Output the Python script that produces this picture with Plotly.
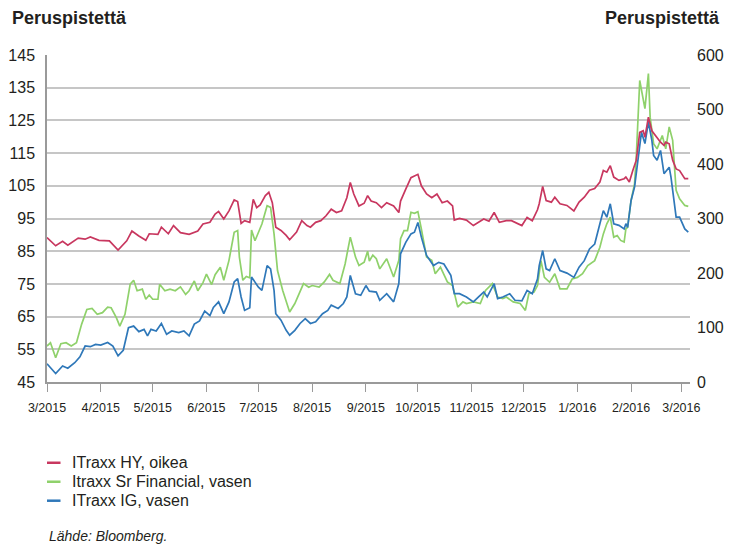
import plotly.graph_objects as go

# iTraxx HY (right axis, basis points)
HY_POINTS = [
    ("2015-03-01", 265), ("2015-03-06", 250), ("2015-03-10", 258), ("2015-03-13", 251),
    ("2015-03-19", 264), ("2015-03-23", 262), ("2015-03-26", 266), ("2015-03-31", 260),
    ("2015-04-06", 259), ("2015-04-11", 242), ("2015-04-16", 259), ("2015-04-19", 277),
    ("2015-04-23", 268), ("2015-04-27", 260), ("2015-04-29", 272),
    ("2015-05-04", 271), ("2015-05-06", 284), ("2015-05-10", 272), ("2015-05-13", 287),
    ("2015-05-17", 274), ("2015-05-22", 271), ("2015-05-27", 277), ("2015-05-30", 290),
    ("2015-06-03", 293), ("2015-06-06", 308), ("2015-06-08", 313), ("2015-06-11", 299),
    ("2015-06-14", 314), ("2015-06-17", 334), ("2015-06-19", 331), ("2015-06-21", 291),
    ("2015-06-23", 296), ("2015-06-26", 293), ("2015-06-28", 335), ("2015-06-30", 320),
    ("2015-07-02", 325), ("2015-07-05", 342), ("2015-07-07", 348), ("2015-07-09", 329),
    ("2015-07-11", 284), ("2015-07-14", 278), ("2015-07-17", 269), ("2015-07-19", 261),
    ("2015-07-23", 275), ("2015-07-26", 296), ("2015-07-29", 287), ("2015-07-31", 284),
    ("2015-08-03", 293), ("2015-08-06", 296), ("2015-08-09", 305), ("2015-08-12", 317),
    ("2015-08-15", 311), ("2015-08-18", 314), ("2015-08-21", 338), ("2015-08-23", 366),
    ("2015-08-25", 345), ("2015-08-28", 323), ("2015-08-31", 328),
    ("2015-09-02", 342), ("2015-09-04", 332), ("2015-09-07", 329), ("2015-09-10", 320),
    ("2015-09-13", 329), ("2015-09-17", 323), ("2015-09-20", 311), ("2015-09-21", 332),
    ("2015-09-24", 354), ("2015-09-27", 375), ("2015-09-29", 378),
    ("2015-10-01", 381), ("2015-10-03", 360), ("2015-10-06", 345), ("2015-10-09", 338),
    ("2015-10-12", 345), ("2015-10-15", 329), ("2015-10-18", 332), ("2015-10-21", 323),
    ("2015-10-22", 297), ("2015-10-25", 300), ("2015-10-29", 297),
    ("2015-11-02", 287), ("2015-11-05", 293), ("2015-11-08", 299), ("2015-11-11", 295),
    ("2015-11-14", 311), ("2015-11-17", 293), ("2015-11-21", 296), ("2015-11-24", 296),
    ("2015-11-28", 290), ("2015-11-30", 287),
    ("2015-12-03", 302), ("2015-12-06", 296), ("2015-12-09", 316), ("2015-12-10", 327),
    ("2015-12-12", 359), ("2015-12-14", 333), ("2015-12-17", 330), ("2015-12-19", 339),
    ("2015-12-22", 327), ("2015-12-26", 324), ("2015-12-30", 314),
    ("2016-01-02", 330), ("2016-01-05", 339), ("2016-01-08", 352), ("2016-01-11", 355),
    ("2016-01-14", 367), ("2016-01-16", 388), ("2016-01-18", 385), ("2016-01-20", 397),
    ("2016-01-22", 376), ("2016-01-25", 370), ("2016-01-28", 373), ("2016-01-29", 376),
    ("2016-01-31", 367),
    ("2016-02-02", 388), ("2016-02-04", 407), ("2016-02-06", 458), ("2016-02-08", 461),
    ("2016-02-09", 449), ("2016-02-11", 486), ("2016-02-13", 461), ("2016-02-15", 452),
    ("2016-02-18", 440), ("2016-02-20", 434), ("2016-02-21", 440), ("2016-02-23", 437),
    ("2016-02-25", 407), ("2016-02-27", 391), ("2016-02-29", 388),
    ("2016-03-03", 373), ("2016-03-05", 373),
]

# iTraxx Senior Financial (left axis)
FIN_POINTS = [
    ("2015-03-01", 56.0), ("2015-03-03", 57.0), ("2015-03-06", 52.4), ("2015-03-09", 56.7),
    ("2015-03-12", 57.0), ("2015-03-15", 56.0), ("2015-03-18", 57.0), ("2015-03-21", 62.7),
    ("2015-03-24", 67.2), ("2015-03-27", 67.5), ("2015-03-30", 65.7),
    ("2015-04-02", 66.2), ("2015-04-05", 67.9), ("2015-04-07", 67.7), ("2015-04-10", 64.7),
    ("2015-04-12", 62.1), ("2015-04-15", 65.7), ("2015-04-18", 74.9), ("2015-04-20", 76.1),
    ("2015-04-22", 72.9), ("2015-04-25", 73.4), ("2015-04-27", 70.3), ("2015-04-29", 71.6),
    ("2015-05-01", 70.3), ("2015-05-04", 70.3), ("2015-05-05", 74.9), ("2015-05-08", 72.9),
    ("2015-05-11", 73.4), ("2015-05-14", 72.9), ("2015-05-17", 74.1), ("2015-05-20", 71.8),
    ("2015-05-22", 72.9), ("2015-05-25", 75.9), ("2015-05-27", 72.9), ("2015-05-30", 75.4),
    ("2015-06-01", 78.0), ("2015-06-04", 74.8), ("2015-06-06", 77.8), ("2015-06-09", 80.1),
    ("2015-06-11", 76.1), ("2015-06-14", 82.2), ("2015-06-17", 90.8), ("2015-06-19", 91.3),
    ("2015-06-20", 83.2), ("2015-06-22", 76.1), ("2015-06-24", 77.3), ("2015-06-26", 76.9),
    ("2015-06-27", 91.5), ("2015-06-29", 88.2),
    ("2015-07-03", 93.3), ("2015-07-06", 98.9), ("2015-07-08", 98.4), ("2015-07-10", 90.3),
    ("2015-07-12", 79.1), ("2015-07-15", 73.0), ("2015-07-19", 66.4), ("2015-07-22", 69.0),
    ("2015-07-25", 73.0), ("2015-07-27", 75.1), ("2015-07-30", 74.0),
    ("2015-08-01", 74.5), ("2015-08-05", 74.0), ("2015-08-08", 75.6), ("2015-08-11", 77.9),
    ("2015-08-13", 76.1), ("2015-08-17", 75.1), ("2015-08-20", 81.1), ("2015-08-23", 89.3),
    ("2015-08-26", 83.2), ("2015-08-28", 80.6), ("2015-08-31", 81.6),
    ("2015-09-02", 85.0), ("2015-09-03", 82.0), ("2015-09-05", 83.8), ("2015-09-07", 82.7),
    ("2015-09-09", 79.6), ("2015-09-13", 82.7), ("2015-09-17", 77.1), ("2015-09-20", 82.2),
    ("2015-09-21", 88.8), ("2015-09-23", 91.3), ("2015-09-25", 91.3), ("2015-09-27", 96.9),
    ("2015-09-29", 96.6),
    ("2015-10-01", 97.1), ("2015-10-03", 91.8), ("2015-10-06", 83.2), ("2015-10-09", 82.2),
    ("2015-10-11", 78.1), ("2015-10-14", 80.1), ("2015-10-18", 75.6), ("2015-10-21", 74.5),
    ("2015-10-24", 67.9), ("2015-10-27", 69.5), ("2015-10-29", 69.0),
    ("2015-11-02", 69.5), ("2015-11-06", 69.0), ("2015-11-09", 73.0), ("2015-11-13", 75.1),
    ("2015-11-16", 71.0), ("2015-11-19", 70.5), ("2015-11-21", 71.0), ("2015-11-25", 69.5),
    ("2015-11-29", 69.0),
    ("2015-12-02", 66.9), ("2015-12-04", 72.0), ("2015-12-07", 72.5), ("2015-12-09", 74.5),
    ("2015-12-11", 82.1), ("2015-12-13", 77.0), ("2015-12-16", 75.5), ("2015-12-19", 78.1),
    ("2015-12-22", 73.5), ("2015-12-26", 73.5), ("2015-12-29", 76.5),
    ("2016-01-01", 77.0), ("2016-01-04", 78.1), ("2016-01-07", 80.6), ("2016-01-11", 82.1),
    ("2016-01-14", 86.2), ("2016-01-16", 90.3), ("2016-01-18", 93.4), ("2016-01-20", 95.4),
    ("2016-01-22", 89.3), ("2016-01-24", 89.8), ("2016-01-26", 88.3), ("2016-01-28", 87.8),
    ("2016-01-29", 91.8), ("2016-01-30", 92.3),
    ("2016-02-01", 100.5), ("2016-02-03", 105.6), ("2016-02-04", 113.8), ("2016-02-06", 137.2),
    ("2016-02-09", 128.6), ("2016-02-11", 139.3), ("2016-02-12", 126.0), ("2016-02-14", 117.9),
    ("2016-02-16", 116.3), ("2016-02-19", 120.4), ("2016-02-21", 116.3), ("2016-02-23", 123.0),
    ("2016-02-25", 118.9), ("2016-02-27", 103.6), ("2016-02-29", 101.0),
    ("2016-03-03", 99.0), ("2016-03-05", 98.7),
]

# iTraxx IG (left axis)
IG_POINTS = [
    ("2015-03-01", 50.6), ("2015-03-06", 47.6), ("2015-03-10", 49.9), ("2015-03-13", 49.2),
    ("2015-03-17", 50.9), ("2015-03-20", 52.7), ("2015-03-23", 56.0), ("2015-03-26", 55.8),
    ("2015-03-29", 56.5),
    ("2015-04-01", 56.3), ("2015-04-05", 57.1), ("2015-04-08", 56.0), ("2015-04-11", 53.0),
    ("2015-04-14", 54.7), ("2015-04-17", 61.6), ("2015-04-20", 62.1), ("2015-04-23", 60.4),
    ("2015-04-26", 61.1), ("2015-04-28", 59.1), ("2015-04-30", 61.1),
    ("2015-05-03", 60.6), ("2015-05-06", 62.9), ("2015-05-09", 59.6), ("2015-05-12", 60.6),
    ("2015-05-16", 60.1), ("2015-05-19", 60.6), ("2015-05-22", 59.1), ("2015-05-25", 62.7),
    ("2015-05-28", 63.7), ("2015-05-31", 66.7),
    ("2015-06-03", 65.3), ("2015-06-05", 67.8), ("2015-06-08", 69.5), ("2015-06-11", 65.9),
    ("2015-06-14", 69.5), ("2015-06-17", 75.6), ("2015-06-19", 76.6), ("2015-06-21", 71.0),
    ("2015-06-23", 66.9), ("2015-06-26", 67.7), ("2015-06-27", 77.1),
    ("2015-07-01", 74.0), ("2015-07-03", 73.0), ("2015-07-06", 80.6), ("2015-07-08", 79.6),
    ("2015-07-10", 73.0), ("2015-07-11", 65.9), ("2015-07-14", 63.9), ("2015-07-17", 60.8),
    ("2015-07-19", 59.3), ("2015-07-22", 60.8), ("2015-07-25", 62.9), ("2015-07-28", 64.4),
    ("2015-07-31", 62.9),
    ("2015-08-03", 63.4), ("2015-08-07", 65.9), ("2015-08-10", 66.9), ("2015-08-12", 68.5),
    ("2015-08-16", 67.5), ("2015-08-19", 69.0), ("2015-08-21", 71.0), ("2015-08-23", 77.6),
    ("2015-08-26", 72.0), ("2015-08-29", 71.5),
    ("2015-09-01", 74.5), ("2015-09-03", 72.8), ("2015-09-07", 72.5), ("2015-09-09", 70.0),
    ("2015-09-13", 72.0), ("2015-09-17", 69.5), ("2015-09-20", 75.1), ("2015-09-21", 84.2),
    ("2015-09-24", 87.7), ("2015-09-27", 90.3), ("2015-09-29", 90.8),
    ("2015-10-01", 93.8), ("2015-10-03", 89.3), ("2015-10-06", 83.7), ("2015-10-10", 80.6),
    ("2015-10-13", 81.6), ("2015-10-16", 81.1), ("2015-10-20", 77.6), ("2015-10-22", 72.0),
    ("2015-10-25", 72.0), ("2015-10-29", 71.0),
    ("2015-11-02", 69.5), ("2015-11-05", 71.0), ("2015-11-08", 72.5), ("2015-11-10", 71.0),
    ("2015-11-14", 75.1), ("2015-11-16", 70.5), ("2015-11-19", 71.0), ("2015-11-23", 72.0),
    ("2015-11-26", 70.0), ("2015-11-30", 69.8),
    ("2015-12-03", 73.0), ("2015-12-06", 72.0), ("2015-12-09", 76.5), ("2015-12-10", 80.6),
    ("2015-12-12", 85.2), ("2015-12-14", 79.6), ("2015-12-16", 79.1), ("2015-12-19", 82.7),
    ("2015-12-22", 79.1), ("2015-12-26", 78.3), ("2015-12-30", 77.0),
    ("2016-01-02", 80.1), ("2016-01-05", 82.1), ("2016-01-08", 85.7), ("2016-01-11", 87.2),
    ("2016-01-14", 93.4), ("2016-01-16", 97.4), ("2016-01-18", 95.4), ("2016-01-20", 99.5),
    ("2016-01-22", 93.4), ("2016-01-25", 92.9), ("2016-01-28", 91.8), ("2016-01-29", 93.4),
    ("2016-01-30", 92.3),
    ("2016-02-01", 100.5), ("2016-02-03", 104.6), ("2016-02-05", 113.8), ("2016-02-07", 121.4),
    ("2016-02-09", 117.9), ("2016-02-11", 124.5), ("2016-02-13", 118.9), ("2016-02-14", 114.3),
    ("2016-02-16", 112.8), ("2016-02-18", 115.8), ("2016-02-20", 108.7), ("2016-02-23", 110.7),
    ("2016-02-24", 107.7), ("2016-02-27", 95.4), ("2016-02-29", 95.4),
    ("2016-03-03", 91.8), ("2016-03-05", 90.8),
]

LEGEND_LABELS = ["ITraxx HY, oikea", "Itraxx Sr Financial, vasen", "ITraxx IG, vasen"]
AXIS_TITLE = "Peruspistettä"
SOURCE = "Lähde: Bloomberg."

RED = "#c8375f"
GREEN = "#8fd16b"
BLUE = "#2f78b9"
GRID = "#c6c6c6"
TEXT = "#231f20"
FONT = "Liberation Sans, Arial, sans-serif"

fig = go.Figure()

for points, color, axis in [
    (FIN_POINTS, GREEN, "y"),
    (IG_POINTS, BLUE, "y"),
    (HY_POINTS, RED, "y2"),
]:
    fig.add_trace(
        go.Scatter(
            x=[d for d, _ in points],
            y=[v for _, v in points],
            mode="lines",
            line=dict(color=color, width=1.7),
            yaxis=axis,
            showlegend=False,
        )
    )

# the page body adds an 8px offset, so the figure is 8px smaller on each axis
fig.update_layout(
    width=724,
    height=542,
    margin=dict(l=39, r=42, t=47, b=168),
    paper_bgcolor="white",
    plot_bgcolor="white",
    font=dict(family=FONT, color=TEXT),
    xaxis=dict(
        type="date",
        range=["2015-03-01", "2016-03-06"],
        tick0="2015-03-01",
        dtick="M1",
        tickformat="%-m/%Y",
        tickangle=0,
        ticks="outside",
        ticklen=8,
        tickcolor="#9a9a9a",
        tickwidth=1,
        showline=True,
        linecolor="#9a9a9a",
        linewidth=1.5,
        showgrid=False,
        zeroline=False,
        automargin=False,
        ticklabelstandoff=5,
        tickfont=dict(size=12.5),
    ),
    yaxis=dict(
        range=[45, 145],
        tick0=45,
        dtick=10,
        showgrid=True,
        gridcolor=GRID,
        gridwidth=1.5,
        zeroline=False,
        showline=True,
        linecolor="#9a9a9a",
        linewidth=1.5,
        ticklabelstandoff=7,
        automargin=False,
        tickfont=dict(size=16),
    ),
    yaxis2=dict(
        range=[0, 600],
        tick0=0,
        dtick=100,
        overlaying="y",
        side="right",
        showgrid=False,
        zeroline=False,
        showline=False,
        ticklabelstandoff=6,
        automargin=False,
        tickfont=dict(size=16),
    ),
)

# axis unit titles
for x, anchor in [(-0.058, "left"), (1.05, "right")]:
    fig.add_annotation(
        text="<b>" + AXIS_TITLE + "</b>", xref="paper", yref="paper",
        x=x, y=1.113, xanchor=anchor, yanchor="middle", showarrow=False,
        font=dict(size=18, color=TEXT),
    )

# legend below the chart
for i, (label, color) in enumerate(zip(LEGEND_LABELS, [RED, GREEN, BLUE])):
    y = -0.247 - i * 0.058
    fig.add_shape(
        type="line", xref="paper", yref="paper",
        x0=0.0, x1=0.021, y0=y, y1=y,
        line=dict(color=color, width=2.5),
    )
    fig.add_annotation(
        text=label, xref="paper", yref="paper",
        x=0.036, y=y, xanchor="left", yanchor="middle", showarrow=False,
        font=dict(size=16, color=TEXT),
    )

fig.add_annotation(
    text="<i>" + SOURCE + "</i>", xref="paper", yref="paper",
    x=0.0, y=-0.471, xanchor="left", yanchor="middle", showarrow=False,
    font=dict(size=14, color=TEXT),
)

fig.write_html("out.html")
